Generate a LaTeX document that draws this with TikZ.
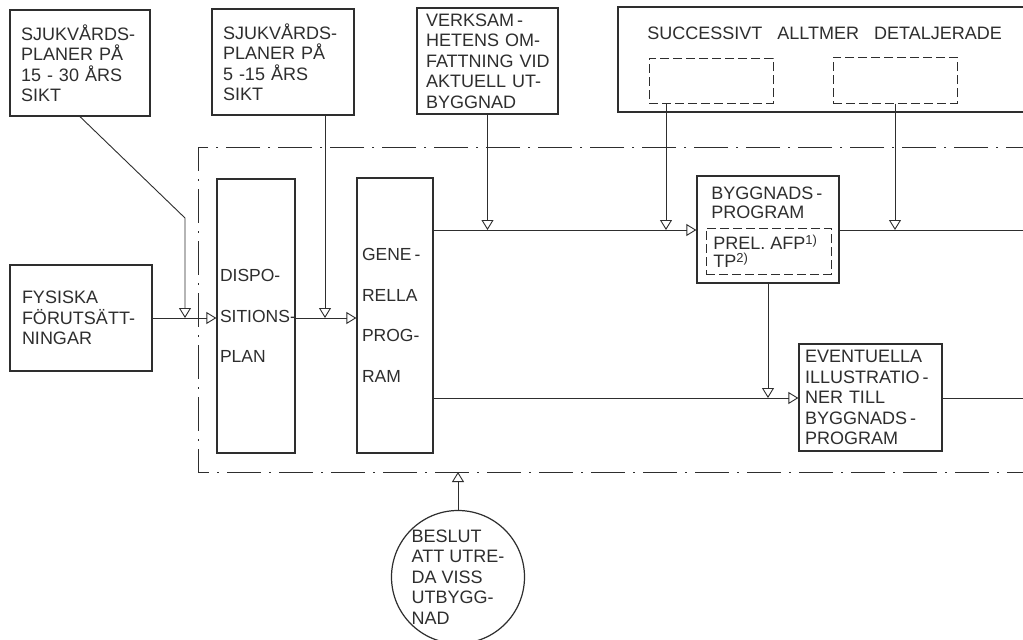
\documentclass[tikz,border=0pt]{standalone}
\usepackage{fontspec}
\setmainfont{Liberation Sans}
\usetikzlibrary{arrows.meta}
\definecolor{ink}{HTML}{2E2E2E}
\newcommand\labfont{\fontsize{18}{20.5}\selectfont}
\newcommand\widefont{\fontsize{17.5}{40.5}\selectfont}
\newcommand\supr[1]{\raisebox{5pt}{\fontsize{13}{13}\selectfont #1}}
\begin{document}
\begin{tikzpicture}[x=1pt,y=-1pt,line width=0.9pt,ink,
  box/.style={draw,line width=1.3pt,rectangle,inner sep=0pt,align=left,font=\labfont,text=ink},
  dbox/.style={draw,line width=1pt,rectangle,inner sep=0pt,dash pattern=on 9pt off 4pt},
  txt/.style={inner sep=0pt,align=left,font=\labfont,text=ink},
  arr/.style={-{Triangle[open,length=10pt,width=12pt,line width=0.9pt]}},
  dashdot/.style={line width=0.9pt,dash pattern=on 34pt off 8pt on 2pt off 8pt}]
\useasboundingbox (0,0) rectangle (1023,640);
\fill[white] (0,0) rectangle (1023,640);
\clip (0,0) rectangle (1023,640);

% boxes
\node[box,minimum width=140pt,minimum height=106pt,text width=118pt] (box1) at (80,63)
  {SJUKVÅRDS-\\PLANER PÅ\\15 - 30 ÅRS\\SIKT};
\node[box,minimum width=142pt,minimum height=106pt,text width=120pt] (box2) at (283,62)
  {SJUKVÅRDS-\\PLANER PÅ\\5 -15 ÅRS\\SIKT};
\node[box,minimum width=141pt,minimum height=106pt,text width=123pt] (box3) at (487.5,61)
  {\mbox{VERKSAM\,-}\\\mbox{HETENS OM-}\\\mbox{FATTNING VID}\\\mbox{AKTUELL UT-}\\BYGGNAD};
\node[box,minimum width=422pt,minimum height=105pt] (box4) at (829,59.5) {};
\node[txt,anchor=west] (succ) at (647,33)
  {SUCCESSIVT\hspace{15pt}ALLTMER\hspace{15pt}DETALJERADE};
\node[dbox,minimum width=124pt,minimum height=45pt] (db1) at (711,80.5) {};
\node[dbox,minimum width=124pt,minimum height=46pt] (db2) at (895,80) {};

\node[box,minimum width=142pt,minimum height=106pt,text width=118pt] (fys) at (81,318)
  {FYSISKA\\FÖRUTSÄTT-\\NINGAR};
\node[box,minimum width=78pt,minimum height=274pt,text width=72pt,font=\widefont] (dispo) at (256,316)
  {DISPO-\\\mbox{SITIONS-}\\PLAN};
\node[box,minimum width=76pt,minimum height=275pt,text width=66pt,font=\widefont] (gen) at (395,315.5)
  {\mbox{GENE\,-}\\RELLA\\\mbox{PROG-}\\RAM};

\node[box,minimum width=142pt,minimum height=107pt] (bygg) at (768,229.5) {};
\node[txt,anchor=north west,font=\fontsize{18}{19}\selectfont] (byggt) at (711,186.5)
  {BYGGNADS\,-\\PROGRAM};
\node[dbox,minimum width=125pt,minimum height=46pt] (prel) at (768.5,251) {};
\node[txt,anchor=north west,font=\fontsize{18}{18}\selectfont] (prelt) at (713,235)
  {PREL.\ AFP\supr{1)}\\TP\supr{2)}};

\node[box,minimum width=143pt,minimum height=107pt,text width=131pt] (eve) at (870.5,397.5)
  {EVENTUELLA\\ILLUSTRATIO\,-\\NER TILL\\BYGGNADS\,-\\PROGRAM};

\node[box,circle,line width=1.2pt,minimum size=133pt] (circ) at (458,577)
  {BESLUT\\ATT UTRE-\\DA VISS\\UTBYGG-\\NAD};

% dash-dot frame
\draw[dashdot] (1040,147) -- (198,147) -- (198,472) -- (1040,472);

% connectors
\coordinate (k1) at (185,218);
\coordinate (j1) at (185,318);
\coordinate (j2) at (325,318);
\coordinate (j3) at (487,230);
\coordinate (j4) at (666,230);
\coordinate (j5) at (768,398);
\coordinate (r1) at (1040,230);
\coordinate (r2) at (1040,398);
\coordinate (f1) at (458,472);

\draw[arr] (box1.south) -- (k1) -- (j1);
\draw[arr] (fys.east |- j1) -- (dispo.west |- j1);
\draw[arr] (j2 |- box2.south) -- (j2);
\draw[arr] (dispo.east |- j2) -- (gen.west |- j2);
\draw[arr] (box3.south) -- (box3.south |- j3);
\draw[arr] (gen.east |- j3) -- (bygg.west |- j3);
\draw[arr] (j4 |- db1.south) -- (j4);
\draw (bygg.east |- j3) -- (r1);
\draw[arr] (db2.south) -- (db2.south |- j3);
\draw[arr] (bygg.south) -- (j5);
\draw[arr] (gen.east |- j5) -- (eve.west |- j5);
\draw (eve.east |- j5) -- (r2);
\draw[arr] (circ.north) -- (f1);
\end{tikzpicture}
\end{document}
